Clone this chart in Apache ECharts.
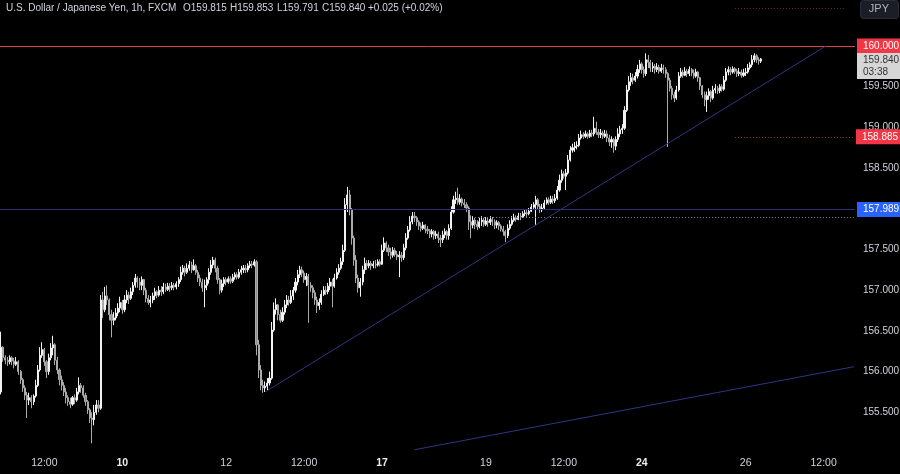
<!DOCTYPE html>
<html><head><meta charset="utf-8">
<script src="https://cdn.jsdelivr.net/npm/echarts@6/dist/echarts.min.js"></script>
<style>html,body{margin:0;padding:0;background:#000;}#c{width:900px;height:474px;}</style>
</head><body><div id="c"></div>
<script>
// ---- data ----
const startTime = '2024-06-05T16:00:00Z';
const categoryCount = 395;
const firstOpen = 155.75;
const closes = [
156.30,156.17,156.14,156.12,156.17,156.13,156.09,156.12,156.00,155.90,
155.80,155.71,155.65,155.68,155.63,155.70,155.83,156.02,156.20,156.27,
156.12,156.00,156.17,156.29,156.33,156.14,156.02,155.90,155.83,155.75,
155.68,155.63,155.60,155.68,155.65,155.75,155.83,155.80,155.71,155.63,
155.53,155.43,155.41,155.50,155.59,155.55,156.88,156.76,156.93,156.88,
156.70,156.63,156.66,156.72,156.78,156.85,156.76,156.88,156.94,156.90,
156.98,157.06,157.15,157.10,157.06,157.13,157.00,156.90,156.85,156.88,
156.93,156.98,156.94,157.00,156.98,157.04,157.01,157.05,157.03,157.06,
157.04,157.08,157.13,157.22,157.27,157.22,157.27,157.31,157.25,157.30,
157.22,157.15,157.10,157.03,157.06,157.13,157.22,157.31,157.37,157.27,
157.13,157.00,157.08,157.13,157.10,157.14,157.11,157.16,157.19,157.16,
157.22,157.25,157.27,157.25,157.30,157.32,157.31,157.35,156.33,156.02,
155.83,155.80,155.82,155.86,155.92,156.51,156.76,156.82,156.70,156.63,
156.73,156.82,156.88,156.85,156.93,157.00,157.10,157.19,157.25,157.21,
157.13,157.17,157.06,157.03,156.97,156.88,156.81,156.85,156.95,157.00,
156.98,157.05,157.10,157.05,157.15,157.22,157.27,157.35,157.49,158.05,
158.17,157.99,157.64,157.37,157.15,157.03,157.10,157.25,157.33,157.30,
157.33,157.30,157.32,157.31,157.35,157.32,157.49,157.58,157.52,157.47,
157.43,157.49,157.44,157.41,157.43,157.40,157.52,157.64,157.74,157.84,
157.91,157.89,157.84,157.79,157.76,157.80,157.75,157.73,157.69,157.72,
157.67,157.69,157.64,157.62,157.68,157.72,157.67,157.76,157.96,158.11,
158.13,158.08,158.12,158.07,158.05,158.01,157.84,157.80,157.86,157.81,
157.78,157.84,157.86,157.81,157.85,157.83,157.87,157.84,157.80,157.83,
157.79,157.75,157.72,157.67,157.76,157.81,157.86,157.89,157.87,157.91,
157.90,157.94,157.95,157.94,157.97,158.02,158.05,158.11,158.03,157.99,
158.01,158.07,158.11,158.08,158.12,158.10,158.13,158.23,158.35,158.43,
158.40,158.44,158.60,158.72,158.75,158.77,158.78,158.87,158.91,158.89,
158.92,158.89,158.93,158.92,158.99,158.94,158.91,158.93,158.89,158.92,
158.87,158.82,158.85,158.77,158.85,158.92,158.97,158.99,159.21,159.46,
159.56,159.61,159.58,159.63,159.71,159.78,159.71,159.66,159.83,159.80,
159.73,159.75,159.71,159.74,159.69,159.73,159.71,159.66,159.58,159.48,
159.40,159.36,159.46,159.63,159.68,159.64,159.69,159.66,159.71,159.67,
159.63,159.68,159.61,159.51,159.40,159.34,159.39,159.44,159.36,159.46,
159.48,159.45,159.50,159.47,159.58,159.68,159.71,159.68,159.72,159.69,
159.66,159.68,159.64,159.67,159.68,159.73,159.77,159.83,159.88,159.83,
159.815,159.840];
const highs = [
156.49,156.31,156.20,156.18,156.20,156.19,156.17,156.18,156.14,156.02,
155.92,155.83,155.75,155.74,155.71,155.72,155.90,156.08,156.30,156.36,
156.29,156.14,156.22,156.35,156.44,156.35,156.18,156.04,155.95,155.87,
155.80,155.71,155.68,155.70,155.72,155.80,155.93,155.86,155.83,155.74,
155.65,155.55,155.50,155.59,155.65,155.65,156.94,156.98,157.04,157.06,
156.90,156.76,156.73,156.78,156.84,156.92,156.88,156.94,157.00,156.98,
157.03,157.10,157.20,157.17,157.15,157.17,157.14,157.03,156.94,156.93,
156.97,157.03,157.00,157.05,157.05,157.09,157.08,157.09,157.09,157.10,
157.09,157.11,157.16,157.29,157.31,157.30,157.33,157.36,157.35,157.38,
157.32,157.25,157.19,157.14,157.13,157.16,157.27,157.37,157.41,157.40,
157.30,157.15,157.13,157.16,157.16,157.17,157.17,157.20,157.22,157.22,
157.26,157.30,157.31,157.31,157.33,157.36,157.36,157.38,157.37,156.39,
156.08,155.90,155.88,155.92,156.00,156.61,156.85,156.90,156.83,156.76,
156.79,156.88,156.94,156.93,157.00,157.04,157.15,157.25,157.30,157.29,
157.24,157.21,157.20,157.10,157.06,157.00,156.92,156.90,157.00,157.05,
157.05,157.09,157.15,157.14,157.20,157.27,157.32,157.40,157.56,158.13,
158.27,158.23,158.01,157.67,157.43,157.19,157.15,157.30,157.40,157.37,
157.37,157.36,157.36,157.37,157.38,157.38,157.56,157.65,157.60,157.56,
157.52,157.53,157.52,157.48,157.48,157.47,157.57,157.70,157.79,157.91,
157.96,157.96,157.91,157.86,157.83,157.84,157.81,157.79,157.75,157.75,
157.74,157.73,157.72,157.68,157.73,157.76,157.74,157.81,158.03,158.16,
158.21,158.26,158.18,158.14,158.12,158.08,158.03,157.92,157.91,157.89,
157.86,157.89,157.91,157.89,157.90,157.89,157.91,157.90,157.87,157.86,
157.85,157.81,157.79,157.74,157.81,157.86,157.91,157.94,157.92,157.95,
157.95,157.97,157.99,157.99,158.01,158.06,158.08,158.16,158.13,158.06,
158.06,158.11,158.14,158.14,158.16,158.16,158.18,158.28,158.42,158.48,
158.46,158.49,158.66,158.77,158.80,158.82,158.83,158.92,158.96,158.94,
158.96,158.94,158.97,158.97,159.13,159.07,158.98,158.98,158.96,158.97,
158.96,158.91,158.89,158.87,158.89,158.99,159.02,159.04,159.26,159.52,
159.63,159.67,159.66,159.68,159.77,159.83,159.80,159.75,159.91,159.89,
159.83,159.80,159.78,159.79,159.77,159.78,159.77,159.74,159.68,159.61,
159.51,159.44,159.51,159.68,159.73,159.71,159.74,159.72,159.75,159.73,
159.71,159.72,159.69,159.62,159.52,159.44,159.44,159.48,159.46,159.51,
159.53,159.51,159.53,159.53,159.63,159.73,159.75,159.74,159.75,159.74,
159.72,159.73,159.71,159.72,159.73,159.78,159.80,159.89,159.91,159.90,
159.86,159.853];
const lows = [
155.72,156.12,156.09,156.07,156.09,156.08,156.04,156.07,155.96,155.85,
155.75,155.65,155.43,155.59,155.55,155.59,155.68,155.81,156.00,156.17,
156.07,155.92,155.96,156.14,156.20,156.08,155.97,155.83,155.77,155.70,
155.61,155.58,155.55,155.58,155.60,155.63,155.72,155.74,155.68,155.58,
155.48,155.37,155.12,155.34,155.47,155.50,155.53,156.66,156.73,156.82,
156.63,156.42,156.57,156.63,156.68,156.73,156.71,156.73,156.84,156.83,
156.88,156.94,157.03,157.03,157.00,157.00,156.94,156.85,156.82,156.79,
156.84,156.88,156.90,156.92,156.93,156.95,156.98,156.99,156.98,157.00,
157.00,157.01,157.04,157.10,157.19,157.17,157.20,157.24,157.21,157.24,
157.19,157.10,157.05,156.98,156.79,157.00,157.08,157.19,157.27,157.22,
157.08,156.95,156.97,157.04,157.06,157.08,157.08,157.09,157.13,157.13,
157.14,157.19,157.21,157.21,157.22,157.27,157.27,157.29,156.20,155.92,
155.77,155.74,155.75,155.77,155.83,155.90,156.49,156.70,156.63,156.60,
156.61,156.70,156.78,156.81,156.83,156.88,156.97,157.06,157.15,157.16,
157.09,157.05,156.60,156.98,156.90,156.82,156.72,156.76,156.82,156.93,
156.94,156.95,157.00,156.79,157.03,157.13,157.19,157.25,157.31,157.47,
157.96,157.92,157.56,157.30,157.09,156.97,156.92,157.06,157.20,157.25,
157.27,157.25,157.27,157.27,157.29,157.29,157.31,157.47,157.47,157.42,
157.38,157.40,157.41,157.37,157.16,157.35,157.37,157.49,157.62,157.72,
157.81,157.84,157.79,157.74,157.72,157.74,157.70,157.69,157.64,157.65,
157.62,157.63,157.58,157.53,157.58,157.64,157.62,157.62,157.74,157.94,
158.06,158.05,158.05,158.03,158.01,157.96,157.74,157.64,157.76,157.75,
157.74,157.76,157.79,157.78,157.79,157.78,157.80,157.79,157.75,157.76,
157.74,157.72,157.67,157.59,157.64,157.74,157.79,157.84,157.84,157.86,
157.86,157.89,157.91,157.90,157.92,157.96,158.00,157.80,157.99,157.95,
157.96,157.99,158.05,158.05,158.06,158.06,158.07,158.11,158.21,158.32,
158.37,158.23,158.42,158.58,158.69,158.70,158.73,158.76,158.85,158.86,
158.87,158.86,158.87,158.88,158.89,158.91,158.87,158.87,158.86,158.87,
158.82,158.77,158.75,158.69,158.72,158.82,158.88,158.92,158.97,159.19,
159.44,159.51,159.53,159.56,159.60,159.67,159.66,159.61,159.63,159.73,
159.68,159.68,159.66,159.68,159.66,159.67,159.66,159.61,158.76,159.44,
159.34,159.31,159.34,159.44,159.61,159.61,159.63,159.62,159.63,159.63,
159.60,159.61,159.56,159.46,159.36,159.26,159.19,159.34,159.31,159.34,
159.42,159.41,159.42,159.44,159.45,159.56,159.64,159.64,159.66,159.66,
159.62,159.63,159.61,159.62,159.63,159.66,159.71,159.74,159.80,159.79,
159.77,159.791];

// x-axis tick labels (category key -> label)
const tickTimes  = ['06-06 12:00','06-10 00:00','06-12 00:00','06-13 12:00','06-17 00:00','06-19 00:00','06-20 12:00','06-24 00:00','06-26 00:00','06-27 12:00'];
const tickLabels = ['12:00','10','12','12:00','17','19','12:00','24','26','12:00'];
const boldTicks  = ['10','17','24'];

// drawn levels / lines (prices and bar indices)
const resistanceLevel = 160.000;
const supportLevel = 157.989;
const redDottedLevel = 158.885;
const greyDottedLevel = 157.90;
const topDottedLevel = 160.467;
const lastPrice = 159.840;
const countdown = '03:38';
const greyDottedFrom = 219, dottedTo = 394;
const redDottedFrom = 339;
const topDottedFrom = 339, topDottedTo = 390;
const trendA = [[122, 155.75], [381, 160.00]];
const trendB = [[191, 155.04], [394, 156.06]];
const headerName = 'U.S. Dollar / Japanese Yen, 1h, FXCM';
const headerItems = ['O159.815', 'H159.853', 'L159.791', 'C159.840', '+0.025 (+0.02%)'];

// ---- build ----
function pad(n){return (n<10?'0':'')+n;}
function buildCategories(){
  const out=[]; let t=Date.parse(startTime);
  while(out.length<categoryCount){
    const d=new Date(t), wd=d.getUTCDay(), h=d.getUTCHours();
    const closed=(wd===5&&h>=21)||wd===6||(wd===0&&h<21);
    if(!closed) out.push(pad(d.getUTCMonth()+1)+'-'+pad(d.getUTCDate())+' '+pad(h)+':00');
    t+=3600000;
  }
  return out;
}
const cats = buildCategories();
const candles = closes.map((c,i)=>{
  const o = i===0 ? firstOpen : closes[i-1];
  return [o, c, Math.min(lows[i],o,c), Math.max(highs[i],o,c)];
});

const AXFONT = "'Liberation Sans', Arial, sans-serif";
const tag = (bg, fg) => ({show:true, position:'end', distance:2, backgroundColor:bg, color:fg,
  fontFamily:AXFONT, fontSize:10, padding:[2,2,1,6], lineHeight:12});
const trendStyle = {color:'#2d3685', width:1, type:'solid'};

const headerX = [6, 183, 230, 277, 322, 368];
const headerGraphics = [headerName].concat(headerItems).map((s,k)=>({
  type:'text', left:headerX[k], top:3, z:12,
  style:{text:s, fill:'#d1d4dc', font:"10px 'Liberation Sans', Arial, sans-serif"}
}));

const chart = echarts.init(document.getElementById('c'), null, {renderer:'canvas'});
chart.setOption({
  backgroundColor:'#000000',
  animation:false,
  grid:{left:0, right:45, top:5.3, bottom:21, containLabel:false, outerBoundsMode:'none'},
  xAxis:{type:'category', data:cats, boundaryGap:true,
    axisLine:{show:false}, axisTick:{show:false}, splitLine:{show:false},
    axisLabel:{
      interval:(idx,val)=>tickTimes.indexOf(val)>=0,
      formatter:(val)=>{const k=tickTimes.indexOf(val); if(k<0) return ''; const s=tickLabels[k]; return boldTicks.indexOf(s)>=0?'{b|'+s+'}':'{n|'+s+'}';},
      margin:5,
      rich:{b:{color:'#ececec', fontSize:10.5, fontWeight:'bold', fontFamily:AXFONT}, n:{color:'#d1d4dc', fontSize:10.5, fontFamily:AXFONT}}
    }},
  yAxis:{type:'value', position:'right', min:155, max:160.5, interval:0.5, scale:true,
    axisLine:{show:false}, axisTick:{show:false}, splitLine:{show:false},
    axisLabel:{color:'#d1d4dc', fontSize:10, fontFamily:AXFONT, margin:8,
      formatter:(v)=> (v<=155.001||v>=159.999)?'':v.toFixed(3)}},
  series:[{
    type:'candlestick', data:candles, barWidth:1.6,
    itemStyle:{color:'#f2f2f2', color0:'#8e8e8e', borderColor:'#f2f2f2', borderColor0:'#ababab', borderWidth:1},
    markLine:{silent:true, symbol:['none','none'], animation:false,
      data:[
        {yAxis:resistanceLevel, lineStyle:{color:'#e0404c', width:1, type:'solid'}, label:Object.assign(tag('#f23645','#ffffff'),{formatter:resistanceLevel.toFixed(3)})},
        {yAxis:supportLevel, lineStyle:{color:'#2c3078', width:1, type:'solid'}, label:Object.assign(tag('#2962ff','#ffffff'),{formatter:supportLevel.toFixed(3)})},
        {yAxis:lastPrice, lineStyle:{color:'rgba(0,0,0,0)', width:0}, label:Object.assign(tag('#d6d6d6','#333333'),{formatter:lastPrice.toFixed(3)+'\n'+countdown, offset:[0,7], padding:[1,2,1,6]})},
        [{coord:[cats[greyDottedFrom], greyDottedLevel], lineStyle:{color:'#8a8a8a', width:1, type:[1,2]}, label:{show:false}}, {coord:[cats[dottedTo], greyDottedLevel]}],
        [{coord:[cats[redDottedFrom], redDottedLevel], lineStyle:{color:'#b03040', width:1, type:[1,2]}, label:Object.assign(tag('#f23645','#ffffff'),{formatter:redDottedLevel.toFixed(3)})}, {coord:[cats[dottedTo], redDottedLevel]}],
        [{coord:[cats[topDottedFrom], topDottedLevel], lineStyle:{color:'#6a2a30', width:1, type:[1,2]}, label:{show:false}}, {coord:[cats[topDottedTo], topDottedLevel]}],
        [{coord:[cats[trendA[0][0]], trendA[0][1]], lineStyle:trendStyle, label:{show:false}}, {coord:[cats[trendA[1][0]], trendA[1][1]]}],
        [{coord:[cats[trendB[0][0]], trendB[0][1]], lineStyle:trendStyle, label:{show:false}}, {coord:[cats[trendB[1][0]], trendB[1][1]]}]
      ]}
  }],
  graphic:headerGraphics.concat([
    {type:'rect', right:1, top:0, shape:{width:38, height:18, r:3}, style:{fill:'#1b1e26', stroke:'#2a2e39', lineWidth:1}, z:10},
    {type:'text', right:11, top:3, style:{text:'JPY', fill:'#b2b5be', font:"11px 'Liberation Sans', Arial, sans-serif"}, z:11}
  ])
});
</script></body></html>
